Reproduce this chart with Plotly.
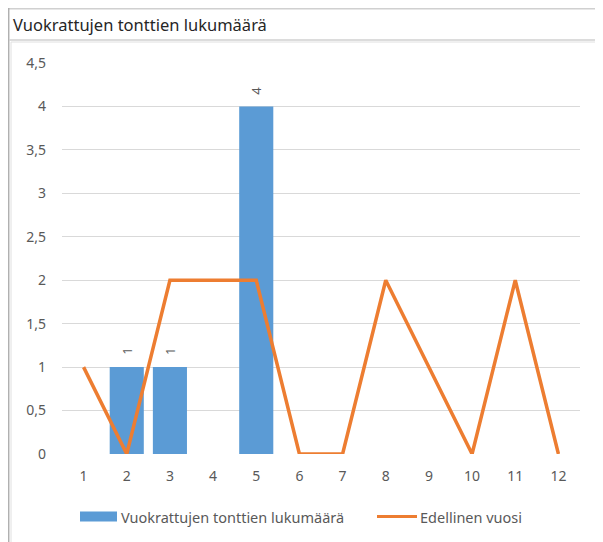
import plotly.graph_objects as go

categories = ["1", "2", "3", "4", "5", "6", "7", "8", "9", "10", "11", "12"]
vuokratut = [None, 1, 1, None, 4, None, None, None, None, None, None, None]
edellinen = [1, 0, 2, 2, 2, 0, 0, 2, 1, 0, 2, 0]
y_ticks = [0, 0.5, 1, 1.5, 2, 2.5, 3, 3.5, 4, 4.5]
y_tick_labels = [str(v).replace(".", ",") for v in y_ticks]
series_names = ["Vuokrattujen tonttien lukumäärä", "Edellinen vuosi"]
title_text = "Vuokrattujen tonttien lukumäärä"

OFF = 8  # browser body margin
W, H = 603 - OFF, 542 - OFF
# plot area in reference (window) pixels
L, R, T, B = 62, 580, 63, 454

def px(x):
    return (x - L) / (R - L)

def py(y):
    return (B - y) / (B - T)

FONT = "Noto Sans"
GRAY = "#595959"
BLUE = "#5B9BD5"
ORANGE = "#ED7D31"
FRAME = "#D0D0D0"

fig = go.Figure()
fig.add_trace(go.Bar(
    x=categories, y=vuokratut, name=series_names[0],
    marker=dict(color=BLUE, line=dict(width=0)),
    showlegend=False,
))
fig.add_trace(go.Scatter(
    x=categories, y=edellinen, name=series_names[1], mode="lines",
    line=dict(color=ORANGE, width=3.5), showlegend=False, cliponaxis=False,
))

shapes = [
    dict(type="line", xref="paper", yref="paper", x0=px(8.5), x1=px(603), y0=py(8.7), y1=py(8.7),
         line=dict(color=FRAME, width=1.5)),
    dict(type="line", xref="paper", yref="paper", x0=px(8.7), x1=px(8.7), y0=py(8), y1=py(542),
         line=dict(color="#B0B0B0", width=1.5)),
    dict(type="line", xref="paper", yref="paper", x0=px(9), x1=px(603), y0=py(40), y1=py(40),
         line=dict(color=FRAME, width=1.5)),
    dict(type="line", xref="paper", yref="paper", x0=px(11), x1=px(11), y0=py(42), y1=py(542),
         line=dict(color="#E0E0E0", width=1)),
    dict(type="line", xref="paper", yref="paper", x0=px(11), x1=px(601), y0=py(42), y1=py(42),
         line=dict(color="#E0E0E0", width=1)),
    dict(type="line", xref="paper", yref="paper", x0=px(600.5), x1=px(600.5), y0=py(42), y1=py(542),
         line=dict(color="#E0E0E0", width=1)),
    dict(type="rect", xref="paper", yref="paper", x0=px(80), x1=px(117), y0=py(511.5), y1=py(521.5),
         fillcolor=BLUE, line=dict(width=0)),
    dict(type="line", xref="paper", yref="paper", x0=px(377), x1=px(417), y0=py(516.5), y1=py(516.5),
         line=dict(color=ORANGE, width=3)),
]

annotations = [
    dict(text=series_names[0], xref="paper", yref="paper", x=px(119), y=py(516.5),
         xanchor="left", yanchor="middle", showarrow=False,
         font=dict(family=FONT, size=14.5, color=GRAY)),
    dict(text=series_names[1], xref="paper", yref="paper", x=px(418), y=py(516.5),
         xanchor="left", yanchor="middle", showarrow=False,
         font=dict(family=FONT, size=14.5, color=GRAY)),
    dict(text=title_text, xref="paper", yref="paper", x=px(10.5), y=py(24.5),
         xanchor="left", yanchor="middle", showarrow=False,
         font=dict(family=FONT, size=16.5, color="#262626")),
]
for i, v in enumerate(vuokratut):
    if v is not None:
        annotations.append(dict(
            text=str(v), x=i, y=v, xref="x", yref="y", showarrow=False,
            textangle=-90, yanchor="middle", xanchor="center", yshift=16,
            font=dict(family=FONT, size=13, color=GRAY),
        ))

fig.update_layout(
    width=W, height=H,
    margin=dict(l=L - OFF, r=W - (R - OFF), t=T - OFF, b=H - (B - OFF), pad=0),
    paper_bgcolor="white", plot_bgcolor="white",
    bargap=0.21,
    shapes=shapes, annotations=annotations,
    showlegend=False,
    xaxis=dict(type="category", showgrid=False, zeroline=False, showline=False,
               ticks="", tickfont=dict(family=FONT, size=14, color=GRAY), ticklabelstandoff=12),
    yaxis=dict(range=[0, 4.5], tickvals=y_ticks, ticktext=y_tick_labels,
               showgrid=True, gridcolor="#D9D9D9", gridwidth=1, zeroline=False, showline=False,
               ticks="", tickfont=dict(family=FONT, size=14, color=GRAY), ticklabelstandoff=15),
)

fig.write_html("out.html")
